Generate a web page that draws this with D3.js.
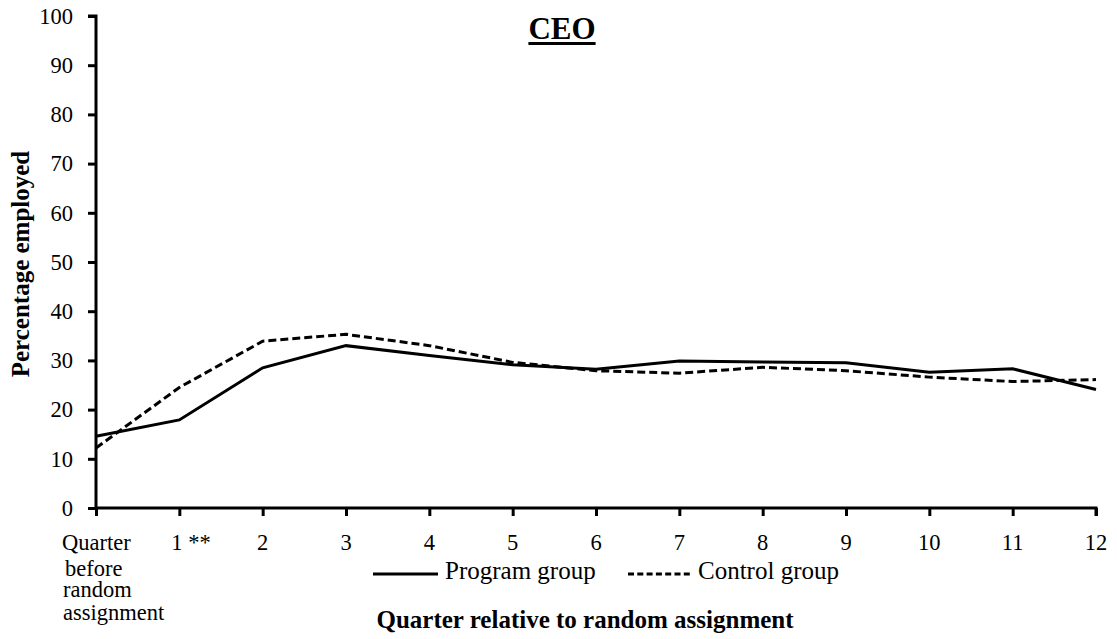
<!DOCTYPE html>
<html>
<head>
<meta charset="utf-8">
<script src="https://cdn.jsdelivr.net/npm/d3@7"></script>
<style>
  html, body { margin: 0; padding: 0; background: #fff; }
  svg { display: block; font-family: "Liberation Serif", "Times New Roman", serif; }
</style>
</head>
<body>
<svg id="chart" width="1117" height="639"></svg>
<script>
// ---- data ----
const quarters = [0, 1, 2, 3, 4, 5, 6, 7, 8, 9, 10, 11, 12];
const quarterLabels = ["Quarter", "1 **", "2", "3", "4", "5", "6", "7", "8", "9", "10", "11", "12"];
const programGroup = [14.6, 17.9, 28.5, 33.0, 31.0, 29.1, 28.2, 29.9, 29.7, 29.5, 27.6, 28.3, 24.1];
const controlGroup = [12.2, 24.5, 33.9, 35.3, 33.0, 29.6, 27.9, 27.4, 28.6, 27.9, 26.6, 25.7, 26.1];
const yTicks = [0, 10, 20, 30, 40, 50, 60, 70, 80, 90, 100];
const firstLabelExtra = ["before", "random", "assignment"];
const title = "CEO";
const yTitle = "Percentage employed";
const xTitle = "Quarter relative to random assignment";
const legendLabels = ["Program group", "Control group"];

(function () {
// ---- layout ----
const svg = d3.select("#chart");
const mLeft = 96, mRight = 1096, mTop = 16, mBottom = 508;
const x = d3.scaleLinear().domain([0, 12]).range([mLeft, mRight]);
const y = d3.scaleLinear().domain([0, 100]).range([mBottom, mTop]);

// y axis
const yAxis = svg.append("g").attr("transform", `translate(${mLeft},0)`)
  .call(d3.axisLeft(y).tickValues(yTicks).tickSize(8).tickPadding(15));
yAxis.select(".domain").attr("stroke", "#000").attr("stroke-width", 3)
  .attr("d", `M-8,${mTop}H0V${mBottom}`);
yAxis.selectAll(".tick line").attr("stroke", "#000").attr("stroke-width", 3);
yAxis.selectAll(".tick text").attr("font-size", 22.5).attr("fill", "#000")
  .attr("font-family", "Liberation Serif");

// x axis
const xAxis = svg.append("g").attr("transform", `translate(0,${mBottom})`)
  .call(d3.axisBottom(x).tickValues(quarters).tickSize(8).tickFormat(() => ""));
xAxis.select(".domain").attr("stroke", "#000").attr("stroke-width", 3)
  .attr("d", `M${mLeft},0H${mRight}V8`);
xAxis.selectAll(".tick line").attr("stroke", "#000").attr("stroke-width", 3);

// x tick labels (first one is multi-line)
const xl = svg.append("g").selectAll("text").data(quarters).join("text")
  .attr("x", (d, i) => i === 0 ? 62 : (i === 1 ? x(d) - 8 : x(d)))
  .attr("y", 550)
  .attr("text-anchor", (d, i) => i <= 1 ? "start" : "middle")
  .attr("font-size", 22.5).attr("fill", "#000")
  .text((d, i) => quarterLabels[i]);
const extraDy = [26, 21, 23];
const extraX = [65, 63, 63];
const first = xl.filter((d, i) => i === 0);
firstLabelExtra.forEach((s, i) => {
  first.append("tspan").attr("x", extraX[i]).attr("dy", extraDy[i]).text(s);
});

// lines
const line = d3.line().x((d, i) => x(quarters[i])).y(d => y(d));
svg.append("path").datum(controlGroup).attr("d", line)
  .attr("fill", "none").attr("stroke", "#000").attr("stroke-width", 3)
  .attr("stroke-dasharray", "8,4");
svg.append("path").datum(programGroup).attr("d", line)
  .attr("fill", "none").attr("stroke", "#000").attr("stroke-width", 3);

// title with thick underline
const tt = svg.append("text").attr("x", 562).attr("y", 39).attr("text-anchor", "middle")
  .attr("font-size", 31).attr("font-weight", "bold").attr("fill", "#000").text(title);
const tb = tt.node().getBBox();
svg.append("rect").attr("x", tb.x).attr("y", 42).attr("width", tb.width).attr("height", 3)
  .attr("fill", "#000");

// y title
svg.append("text").attr("transform", "translate(29,264) rotate(-90)")
  .attr("text-anchor", "middle").attr("font-size", 25).attr("font-weight", "bold")
  .attr("fill", "#000").text(yTitle);

// x title
svg.append("text").attr("x", 585).attr("y", 628).attr("text-anchor", "middle")
  .attr("font-size", 25).attr("font-weight", "bold").attr("fill", "#000").text(xTitle);

// legend
const legend = svg.append("g");
legend.append("line").attr("x1", 373).attr("x2", 438).attr("y1", 574).attr("y2", 574)
  .attr("stroke", "#000").attr("stroke-width", 3);
legend.append("text").attr("x", 445).attr("y", 579).attr("font-size", 25).attr("fill", "#000")
  .text(legendLabels[0]);
legend.append("line").attr("x1", 628).attr("x2", 693).attr("y1", 574).attr("y2", 574)
  .attr("stroke", "#000").attr("stroke-width", 3).attr("stroke-dasharray", "6,3.3");
legend.append("text").attr("x", 698).attr("y", 579).attr("font-size", 25).attr("fill", "#000")
  .text(legendLabels[1]);
})();
</script>
</body>
</html>
